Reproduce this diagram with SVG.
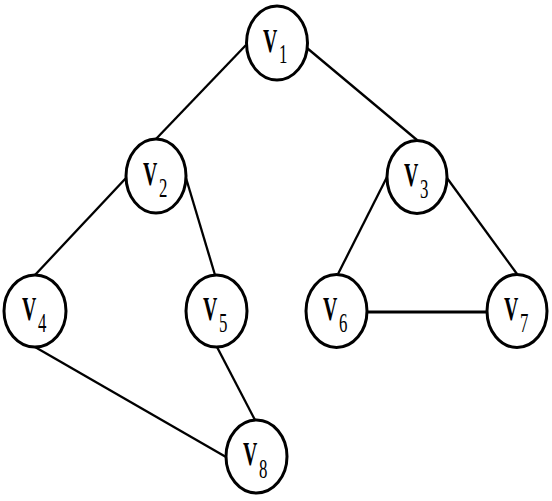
<svg xmlns="http://www.w3.org/2000/svg" width="552" height="501" viewBox="0 0 552 501">
<style>
.edge{stroke:#000;stroke-width:2.3;fill:none}
.thick{stroke-width:3}
.node ellipse{fill:#fff;stroke:#000;stroke-width:3}
.lbl{font-family:"Liberation Serif",serif;font-size:33px;font-weight:bold;fill:#000}
.s{font-size:28px;font-weight:normal}
</style>
<rect width="552" height="501" fill="#fff"/>
<g id="edges">
<line class="edge" x1="246" y1="45" x2="155" y2="140"/>
<line class="edge" x1="307" y1="48" x2="417" y2="140"/>
<line class="edge" x1="126" y1="178" x2="35" y2="275"/>
<line class="edge" x1="186" y1="178" x2="215" y2="275"/>
<line class="edge" x1="35" y1="347" x2="226" y2="457"/>
<line class="edge" x1="217" y1="347" x2="255" y2="420"/>
<line class="edge" x1="387" y1="177" x2="338" y2="274"/>
<line class="edge" x1="447" y1="178" x2="517" y2="274"/>
<line class="edge thick" x1="367" y1="312" x2="487" y2="312"/>
</g>
<g id="V1" class="node"><ellipse cx="277" cy="43" rx="30.5" ry="37"/><text class="lbl" transform="translate(263,52) scale(0.6,1)">V<tspan class="s" dx="3" dy="11">1</tspan></text></g>
<g id="V2" class="node"><ellipse cx="156" cy="176" rx="30" ry="37"/><text class="lbl" transform="translate(143,185) scale(0.6,1)">V<tspan class="s" dx="3" dy="12">2</tspan></text></g>
<g id="V3" class="node"><ellipse cx="417" cy="177" rx="30" ry="36.5"/><text class="lbl" transform="translate(404,186) scale(0.6,1)">V<tspan class="s" dx="3" dy="12">3</tspan></text></g>
<g id="V4" class="node"><ellipse cx="35" cy="311" rx="31" ry="36"/><text class="lbl" transform="translate(22,320) scale(0.6,1)">V<tspan class="s" dx="3" dy="12">4</tspan></text></g>
<g id="V5" class="node"><ellipse cx="216.5" cy="311" rx="30.5" ry="36"/><text class="lbl" transform="translate(203,320) scale(0.6,1)">V<tspan class="s" dx="3" dy="12">5</tspan></text></g>
<g id="V6" class="node"><ellipse cx="336.5" cy="311" rx="30.5" ry="36.5"/><text class="lbl" transform="translate(323,320) scale(0.6,1)">V<tspan class="s" dx="3" dy="12">6</tspan></text></g>
<g id="V7" class="node"><ellipse cx="517" cy="311" rx="30" ry="36.5"/><text class="lbl" transform="translate(504,320) scale(0.6,1)">V<tspan class="s" dx="3" dy="12">7</tspan></text></g>
<g id="V8" class="node"><ellipse cx="256.5" cy="456.5" rx="30.5" ry="36.5"/><text class="lbl" transform="translate(243,465) scale(0.6,1)">V<tspan class="s" dx="3" dy="13">8</tspan></text></g>
</svg>
